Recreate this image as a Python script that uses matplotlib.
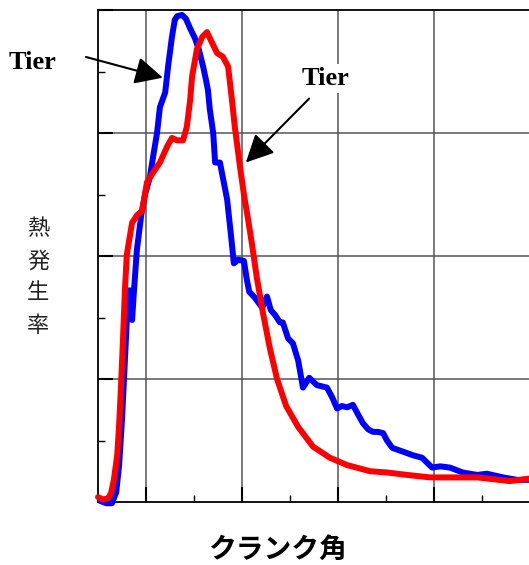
import matplotlib
matplotlib.use("Agg")
import matplotlib.pyplot as plt
from matplotlib.ticker import MultipleLocator

# crank angle (grid units) and heat release rate (grid units)
blue_x = [0.04, 0.17, 0.29, 0.38, 0.44, 0.50, 0.56, 0.63, 0.67, 0.71, 0.75, 0.81, 0.90, 0.98,
          1.08, 1.17, 1.23, 1.29, 1.40, 1.46, 1.54, 1.60, 1.65, 1.75, 1.83, 1.92, 2.02, 2.10,
          2.19, 2.25, 2.29, 2.33, 2.40, 2.44, 2.54, 2.63, 2.69, 2.77, 2.83, 2.92, 3.04, 3.10,
          3.15, 3.27, 3.42, 3.52, 3.60, 3.69, 3.79, 3.85, 3.96, 4.06, 4.17, 4.27, 4.40, 4.56,
          4.77, 4.88, 4.98, 5.08, 5.19, 5.31, 5.42, 5.52, 5.63, 5.73, 5.83, 5.94, 6.02, 6.13,
          6.35, 6.56, 6.75, 6.96, 7.13, 7.33, 7.60, 7.90, 8.10, 8.44, 8.73, 8.98]
blue_y = [0.01, -0.01, -0.01, 0.08, 0.30, 0.67, 1.15, 1.72, 1.72, 1.48, 1.72, 2.05, 2.33, 2.50,
          2.64, 2.86, 3.00, 3.21, 3.33, 3.54, 3.78, 3.92, 3.95, 3.96, 3.93, 3.85, 3.77, 3.68,
          3.54, 3.43, 3.35, 3.19, 3.00, 2.76, 2.76, 2.58, 2.46, 2.17, 1.94, 1.97, 1.96, 1.81,
          1.71, 1.66, 1.58, 1.67, 1.56, 1.52, 1.46, 1.46, 1.33, 1.29, 1.15, 0.93, 1.01, 0.95,
          0.93, 0.85, 0.76, 0.78, 0.77, 0.79, 0.71, 0.64, 0.59, 0.57, 0.57, 0.56, 0.50, 0.44,
          0.41, 0.38, 0.36, 0.28, 0.29, 0.28, 0.24, 0.22, 0.23, 0.20, 0.18, 0.18]

red_x = [0.00, 0.10, 0.21, 0.27, 0.33, 0.40, 0.44, 0.48, 0.52, 0.56, 0.60, 0.65, 0.71, 0.81,
         0.92, 1.02, 1.15, 1.29, 1.44, 1.54, 1.65, 1.77, 1.85, 1.92, 1.96, 2.06, 2.17, 2.27,
         2.38, 2.48, 2.60, 2.71, 2.79, 2.85, 2.96, 3.04, 3.13, 3.21, 3.31, 3.44, 3.58, 3.73,
         3.92, 4.17, 4.48, 4.83, 5.19, 5.67, 6.02, 6.44, 6.92, 7.33, 7.90, 8.58, 8.98]
red_y = [0.04, 0.02, 0.03, 0.07, 0.18, 0.38, 0.63, 0.95, 1.32, 1.72, 2.01, 2.13, 2.27, 2.33,
         2.37, 2.60, 2.68, 2.76, 2.89, 2.96, 2.94, 2.94, 3.05, 3.27, 3.46, 3.68, 3.78, 3.82,
         3.73, 3.65, 3.62, 3.54, 3.27, 3.05, 2.72, 2.50, 2.29, 2.09, 1.82, 1.53, 1.25, 1.00,
         0.78, 0.61, 0.45, 0.36, 0.30, 0.25, 0.24, 0.22, 0.20, 0.20, 0.20, 0.17, 0.19]

label = "Tier"
xlabel = "クランク角"
ylabel = ["熱", "発", "生", "率"]

W, H = 529, 565
fig = plt.figure(figsize=(W / 100, H / 100), dpi=100)
ax = fig.add_axes([98 / W, 63 / H, 432 / W, 492 / H])

ax.set_xlim(0, 9)
ax.set_ylim(0, 4)

# grid
for gx in [1, 3, 5, 7]:
    ax.axvline(gx, color="#555555", lw=1.1, zorder=1)
for gy in [1, 2, 3]:
    ax.axhline(gy, color="#555555", lw=1.1, zorder=1)

ax.plot(blue_x, blue_y, color="#0000ff", lw=4.3, solid_joinstyle="round",
        solid_capstyle="round", clip_on=False, zorder=3)
ax.plot(red_x, red_y, color="#ff0000", lw=4.3, solid_joinstyle="round",
        solid_capstyle="round", clip_on=False, zorder=4)

# spines and ticks
ax.spines["right"].set_visible(False)
for s in ["left", "bottom", "top"]:
    ax.spines[s].set_linewidth(1.3)
ax.set_xticks([1, 3, 5, 7])
ax.set_xticks([2, 4, 6, 8], minor=True)
ax.yaxis.set_major_locator(MultipleLocator(1))
ax.yaxis.set_minor_locator(MultipleLocator(0.5))
ax.tick_params(which="both", direction="in", top=False, right=False,
               labelbottom=False, labelleft=False)
ax.tick_params(which="major", length=11, width=1.5)
ax.tick_params(which="minor", length=5, width=1.0)

# labels
for i, ch in enumerate(ylabel):
    fig.text(38 / W, 1 - (229 + 32 * i) / H, ch, ha="center", va="center",
             fontsize=16, family="Noto Sans CJK JP", color="#222222")
fig.text(277 / W, 1 - 550 / H, xlabel, ha="center", va="center", fontsize=20,
         family="Noto Sans CJK JP", fontweight="bold")

fig.text(9 / W, 1 - 69 / H, label, ha="left", va="baseline", fontsize=19,
         family="Liberation Serif", fontweight="bold")
ax.text(326 / W, 1 - 85 / H, label, transform=fig.transFigure, ha="center",
        va="baseline", fontsize=19, family="Liberation Serif", fontweight="bold",
        bbox=dict(facecolor="white", edgecolor="none", pad=2), zorder=5)

arrow = dict(arrowstyle="-|>,head_length=0.85,head_width=0.42", color="black",
             lw=1.5, mutation_scale=20, shrinkA=0, shrinkB=0)
ax.annotate("", xy=(1.35, 3.45), xytext=(86 / W, 1 - 57 / H),
            textcoords="figure fraction", arrowprops=arrow, annotation_clip=False)
ax.annotate("", xy=(3.08, 2.76), xytext=(4.40, 3.28), arrowprops=arrow, zorder=6)

fig.savefig("out.png", dpi=100)
